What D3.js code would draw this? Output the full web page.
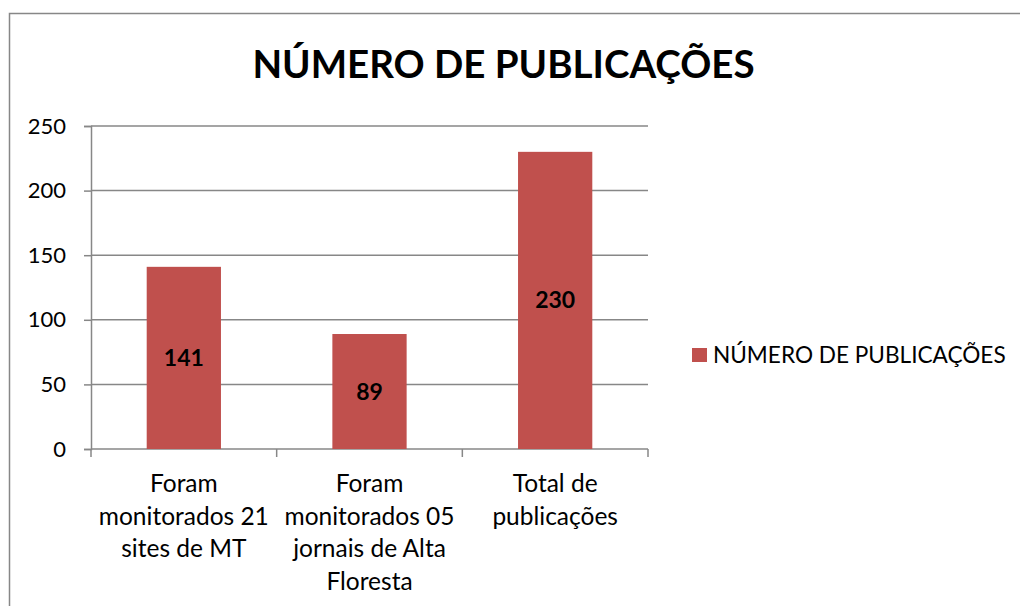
<!DOCTYPE html>
<html>
<head>
<meta charset="utf-8">
<script src="https://cdn.jsdelivr.net/npm/d3@7"></script>
<style>
  body { margin: 0; background: #fff; }
  svg { display: block; font-family: Lato, "Open Sans", sans-serif; }
</style>
</head>
<body>
<svg id="chart" width="1020" height="606"></svg>
<script>
// Data
var categories = [
  ["Foram", "monitorados 21", "sites de MT"],
  ["Foram", "monitorados 05", "jornais de Alta", "Floresta"],
  ["Total de", "publicações"]
];
var values = [141, 89, 230];
var yTicks = [0, 50, 100, 150, 200, 250];
var seriesName = "NÚMERO DE PUBLICAÇÕES";
var title = "NÚMERO DE PUBLICAÇÕES";

var svg = d3.select("#chart");
var barColor = "#C0504D", axisColor = "#878787";
var plot = { left: 91, right: 648, top: 126, bottom: 449 };

// outer frame (right and bottom edges fall outside the picture)
svg.append("rect")
  .attr("x", 9.5).attr("y", 13.5).attr("width", 1040).attr("height", 620)
  .attr("fill", "none").attr("stroke", axisColor).attr("stroke-width", 1.5);

svg.append("text")
  .attr("x", 503.5).attr("y", 78)
  .attr("text-anchor", "middle")
  .attr("font-weight", "bold").attr("font-size", 38.5)
  .text(title);

var x = d3.scaleBand()
  .domain(d3.range(values.length))
  .range([plot.left, plot.right])
  .paddingInner(0.6).paddingOuter(0.3);

var y = d3.scaleLinear().domain([0, 250]).range([plot.bottom, plot.top]);

// gridlines
svg.append("g").selectAll("line").data(yTicks.filter(d => d > 0)).join("line")
  .attr("x1", plot.left).attr("x2", plot.right)
  .attr("y1", d => y(d)).attr("y2", d => y(d))
  .attr("stroke", axisColor).attr("stroke-width", 1.5);

// y axis
var yAxis = svg.append("g")
  .attr("transform", "translate(" + plot.left + ",0)")
  .call(d3.axisLeft(y).tickValues(yTicks).tickSize(7).tickPadding(18));
yAxis.select(".domain").attr("stroke", axisColor).attr("stroke-width", 1.5);
yAxis.selectAll(".tick line").attr("stroke", axisColor).attr("stroke-width", 1.5);
yAxis.selectAll(".tick text").attr("font-size", 22).attr("fill", "#000")
  .attr("font-family", "Lato, sans-serif");

// x axis line + category tick marks at band edges
svg.append("line")
  .attr("x1", plot.left).attr("x2", plot.right)
  .attr("y1", plot.bottom).attr("y2", plot.bottom)
  .attr("stroke", axisColor).attr("stroke-width", 1.5);
var step = x.step();
var edges = d3.range(values.length + 1).map(i => plot.left + i * step);
svg.append("g").selectAll("line").data(edges).join("line")
  .attr("x1", d => d).attr("x2", d => d)
  .attr("y1", plot.bottom).attr("y2", plot.bottom + 8)
  .attr("stroke", axisColor).attr("stroke-width", 1.5);

// bars
svg.append("g").selectAll("rect").data(values).join("rect")
  .attr("x", (d, i) => x(i))
  .attr("width", x.bandwidth())
  .attr("y", d => y(d))
  .attr("height", d => y(0) - y(d))
  .attr("fill", barColor);

// value labels
svg.append("g").selectAll("text").data(values).join("text")
  .attr("x", (d, i) => x(i) + x.bandwidth() / 2)
  .attr("y", d => (y(d) + y(0)) / 2 + 8)
  .attr("text-anchor", "middle")
  .attr("font-weight", "bold").attr("font-size", 23)
  .text(d => d);

// category labels
svg.append("g").selectAll("text").data(categories).join("text")
  .attr("text-anchor", "middle").attr("font-size", 24.5)
  .each(function (lines, i) {
    d3.select(this).selectAll("tspan").data(lines).join("tspan")
      .attr("x", x(i) + x.bandwidth() / 2)
      .attr("y", (l, j) => 492 + j * 32.5)
      .text(l => l);
  });

// legend
svg.append("rect")
  .attr("x", 692).attr("y", 348).attr("width", 15).attr("height", 14)
  .attr("fill", barColor);
svg.append("text")
  .attr("x", 713).attr("y", 363)
  .attr("font-size", 22.6)
  .text(seriesName);
</script>
</body>
</html>
